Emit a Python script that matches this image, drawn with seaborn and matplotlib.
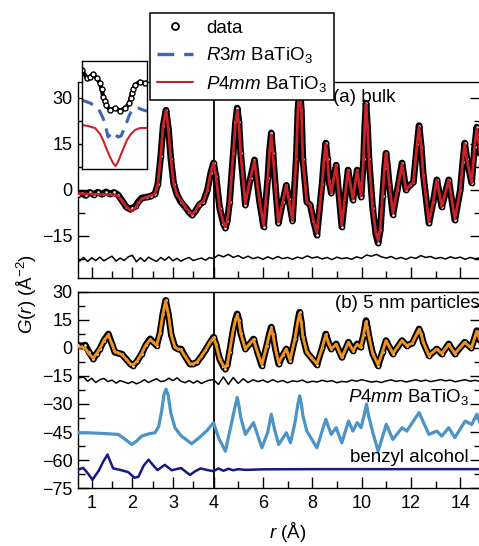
import numpy as np
import matplotlib
matplotlib.use("Agg")
import matplotlib.pyplot as plt
from matplotlib.lines import Line2D
import seaborn as sns

# ---------------- data ----------------
# (a) bulk: data and P4mm fit
r_top = [0.67, 0.75, 0.85, 0.95, 1.05, 1.15, 1.25, 1.35, 1.45, 1.55, 1.65, 1.75, 1.85,
         1.95, 2.0, 2.08, 2.15, 2.23, 2.36, 2.46, 2.56, 2.63, 2.7, 2.76, 2.83, 2.89,
         2.95, 3.02, 3.1, 3.2, 3.3, 3.4, 3.47, 3.55, 3.65, 3.75, 3.85, 3.93, 4.0,
         4.1, 4.25, 4.4, 4.48, 4.56, 4.65, 4.8, 4.89, 4.96, 5.03,
         5.1, 5.29, 5.5, 5.66, 5.85, 6.03, 6.2, 6.27, 6.34, 6.41,
         6.5, 6.63, 6.8, 6.95, 7.05, 7.2, 7.35, 7.42, 7.49, 7.56,
         7.62, 7.78, 7.92, 8.05, 8.19, 8.4, 8.48, 8.55, 8.62, 8.68,
         8.77, 8.97, 9.2, 9.45, 9.65, 9.82, 9.98, 10.08, 10.13, 10.18,
         10.24, 10.3, 10.45, 10.58, 10.67, 10.76, 10.85, 10.93, 10.99, 11.05,
         11.12, 11.27, 11.45, 11.64, 11.8, 11.95, 12.1, 12.25, 12.33, 12.42,
         12.5, 12.73, 12.9, 13.05, 13.25, 13.53, 13.78, 14.0, 14.1, 14.18,
         14.27, 14.46, 14.58, 14.67, 14.76, 14.85]
g_top_data = [-1.5, -1.0, -1.8, -0.8, -1.5, -0.7, -1.4, -0.6, -1.3, -0.8, -1.6, -3.5, -5.5,
              -6.3, -6.0, -5.2, -3.8, -2.6, -2.3, -2.0, -1.2, 2.0, 11.0, 21.0, 26.0, 20.0,
              10.0, 2.0, -1.5, -4.0, -5.5, -7.3, -8.2, -7.0, -4.8, -3.8, 0.0, 5.5, 8.8,
              4.5, -6, -11, -12.4, -10, -4, 12, 22, 26.7, 22,
              12, -4.9, 4, 9.8, -3, -12, 4, 13, 18.6, 12,
              2, -10.8, -4, 1.5, -3, -10, 10, 26, 34, 26,
              10, -3.9, -4.9, -10, -14.7, 2, 10, 15.3, 10, 3,
              -1, 8.1, -12, 6.5, -3.3, 6.5, -2.3, 10, 21, 28.3,
              21, 10, -6, -14.5, -17.3, -13, -2, 7, 12, 8,
              2, -8, 0, 8.8, 0, 1.5, 2.5, 15, 21, 14,
              5, -10.8, -4, 3.3, -5.5, 3.3, -9.8, 0, 9, 15.3,
              10, 2.3, 14, 20.5, 15, 8]
g_top_fit = [-1.2, -1.2, -1.3, -1.3, -1.4, -1.4, -1.5, -1.5, -1.6, -1.7, -2.0, -3.5, -5.5,
             -6.5, -6.8, -5.8, -4.2, -3.0, -2.2, -1.8, -1.2, 2.0, 11.0, 21.0, 26.0, 20.0,
             10.0, 2.0, -1.5, -3.5, -5.5, -7.0, -8.0, -7.0, -4.5, -3.8, 0.0, 5.5, 8.8,
             4.5, -6, -10.7, -12, -9.7, -4, 12, 21.5, 26, 21.5,
             12, -4.5, 4, 9.5, -3, -11.5, 4, 12.5, 18, 11.5,
             2, -10.5, -4, 1.5, -3, -10, 10, 26, 34, 26,
             10, -3.9, -4.9, -10, -14, 2, 10, 15, 10, 3,
             -1, 8, -11.5, 6.5, -3, 6.5, -2, 10, 20.5, 28,
             20.5, 10, -6, -14, -16.5, -12.5, -2, 7, 12, 8,
             2, -7.5, 0, 8.5, 0, 1.5, 2.5, 15, 20.5, 14,
             5, -10.5, -4, 3.3, -5.5, 3.3, -9.5, 0, 9, 15,
             10, 2.3, 14, 20, 15, 8]

# difference curves (shared r grid)
r_diff = [0.7, 0.8, 0.9, 1.0, 1.1, 1.2, 1.3, 1.4, 1.5, 1.6, 1.7, 1.8, 1.9, 2.0, 2.1, 2.2, 2.3,
          2.4, 2.5, 2.6, 2.7, 2.8, 2.9, 3.0, 3.1, 3.2, 3.3, 3.4, 3.5, 3.6, 3.7, 3.8, 3.9, 4.0,
          4.2, 4.4, 4.6, 4.8, 5.0, 5.2, 5.4, 5.6, 5.8, 6.0, 6.2, 6.4, 6.6, 6.8, 7.0, 7.2, 7.4,
          7.6, 7.8, 8.0, 8.2, 8.4, 8.6, 8.8, 9.0, 9.2, 9.4, 9.6, 9.8, 10.0, 10.2, 10.4, 10.6,
          10.8, 11.0, 11.2, 11.4, 11.6, 11.8, 12.0, 12.2, 12.4, 12.6, 12.8, 13.0, 13.2, 13.4,
          13.6, 13.8, 14.0, 14.2, 14.4, 14.6, 14.8]
g_diff_top = [-23.2, -22.0, -23.3, -22.1, -23.0, -21.9, -23.1, -22.3, -21.6, -23.2, -22.2, -23.0,
              -21.8, -21.3, -23.4, -22.1, -23.3, -21.9, -22.7, -23.3, -22.0, -22.9, -21.8, -23.1,
              -22.3, -23.2, -22.5, -22.0, -23.0, -22.6, -22.2, -22.9, -22.1, -22.3,
              -21.2, -21.8, -21.0, -22.0, -21.4, -22.3, -21.6, -22.4, -21.9, -22.6, -21.8, -22.5,
              -21.7, -22.4, -22.0, -22.6, -21.9, -22.3, -21.5, -22.2, -21.8, -22.5, -22.0, -22.7,
              -21.9, -22.4, -22.1, -22.6, -21.8, -22.3, -21.2, -21.6, -21.0, -21.8, -22.2, -21.7,
              -22.5, -22.0, -22.6, -21.9, -22.3, -21.4, -22.0, -21.7, -22.4, -22.0, -22.5, -21.8,
              -22.3, -21.9, -22.6, -22.0, -22.4, -22.1]
g_diff_bot = [-16.0, -15.5, -17.8, -16.2, -18.5, -17.0, -16.3, -18.0, -17.2, -18.8, -17.5, -18.2,
              -19.0, -18.0, -19.2, -18.3, -17.0, -18.5, -17.4, -16.5, -18.0, -17.6, -16.2, -17.5,
              -16.0, -17.8, -18.6, -17.4, -18.8, -17.6, -19.0, -18.0, -17.2, -17.0,
              -19.5, -15.5, -19.5, -15.8, -19.0, -16.5, -18.5, -17.0, -18.0, -17.2, -18.4, -17.0,
              -18.2, -17.4, -18.6, -17.6, -18.0, -17.2, -18.5, -17.8, -18.2, -17.3, -18.0, -17.5,
              -18.6, -17.9, -18.2, -17.2, -17.8, -17.0, -17.6, -18.3, -17.8, -18.5, -17.6, -17.1,
              -17.9, -17.4, -18.2, -17.6, -17.0, -17.8, -17.2, -18.0, -17.5, -16.9, -17.6, -17.2,
              -18.1, -17.5, -17.0, -17.8, -17.3, -17.9]

# (b) 5 nm particles: data and fit
r_bot = [0.67, 0.75, 0.84, 0.93, 1.04, 1.12, 1.2, 1.3, 1.41, 1.5, 1.57, 1.65, 1.74, 1.85, 1.95,
         2.02, 2.12, 2.23, 2.33, 2.44, 2.52, 2.6, 2.68, 2.75, 2.82, 2.89, 2.96, 3.05, 3.12, 3.2,
         3.3, 3.42, 3.5, 3.59, 3.7, 3.8, 3.9, 4.0,
         4.1, 4.25, 4.4, 4.48, 4.56, 4.65, 4.8, 4.89, 4.96, 5.03,
         5.1, 5.29, 5.45, 5.62, 5.8, 5.96, 6.15, 6.27, 6.34, 6.41,
         6.5, 6.64, 6.8, 6.95, 7.1, 7.3, 7.42, 7.49, 7.56, 7.62,
         7.78, 7.95, 8.19, 8.4, 8.55, 8.68, 8.77, 8.97, 9.2, 9.47,
         9.65, 9.82, 9.96, 10.08, 10.18, 10.24, 10.3, 10.45, 10.67, 10.85,
         10.99, 11.27, 11.64, 11.83, 12.05, 12.25, 12.33, 12.42, 12.5, 12.73,
         13.05, 13.25, 13.53, 13.78, 14.18, 14.45, 14.67, 14.85]
g_bot_data = [1.5, 1.0, 1.6, -2.0, -5.9, -3.0, -0.5, 4.0, 7.5, 2.0, -2.3, -2.8, -3.2, -6.0, -8.5,
              -9.5, -7.0, -3.2, 1.5, 4.9, 3.0, 1.3, 8.0, 18.0, 25.5, 18.0, 7.0, 0.4, -0.5, -0.5,
              -4.5, -8.6, -8.5, -7.7, -4.5, -1.2, 2.5, 5.8,
              2, -6, -10, -11.3, -9, -2, 10, 15.5, 18.3, 15,
              8, -0.5, 2, 4.8, -3, -9.5, 1, 8, 11.2, 7.5,
              0, -8.6, -4, -0.5, -6.8, 5, 15, 19.2, 14, 6,
              -2.3, -5, -9, 0, 7.5, 2, -0.5, 2.2, -5, 3.1,
              -1.4, 2.2, 0.4, 7, 14.7, 11, 6, -3, -9.5, -2,
              4, -3.2, 4, 1.3, 2.5, 8, 10.2, 7.5, 3, -4.1,
              -0.5, -3.2, 2.2, -3.2, 3.1, 0, 9.3, 2]
g_bot_fit = [0.5, 0.5, 0.0, -3.0, -5.5, -3.0, -0.5, 4.0, 7.0, 2.0, -2.0, -2.5, -3.5, -6.0, -8.5,
             -9.0, -7.0, -3.0, 1.5, 4.5, 3.0, 1.5, 8.0, 18.0, 25.0, 18.0, 7.0, 0.4, -0.5, -1.0,
             -4.5, -8.5, -8.5, -7.5, -4.5, -1.2, 2.5, 5.5,
             2, -6, -9.5, -10.5, -8.5, -2, 10, 15, 17.5, 14.5,
             8, -0.5, 2, 4.5, -3, -9, 1, 7.5, 10.5, 7,
             0, -8, -4, -0.5, -6.5, 5, 14.5, 18.5, 13.5, 6,
             -2.3, -5, -8.5, 0, 7, 2, -0.5, 2, -5, 3,
             -1.4, 2, 0.4, 7, 14, 10.5, 6, -3, -9, -2,
             4, -3, 4, 1.3, 2.5, 7.8, 10, 7.3, 3, -4,
             -0.5, -3, 2, -3, 3, 0, 9, 2]

# P4mm BaTiO3 calculated (offset)
r_p4 = [0.67, 1.0, 1.3, 1.65, 1.8, 1.985, 2.1, 2.23, 2.4, 2.56,
        2.65, 2.72, 2.78, 2.83, 2.88, 2.95, 3.05, 3.2, 3.46, 3.65,
        3.85, 4.0, 4.2, 4.48, 4.7, 4.88, 4.96, 5.03, 5.1, 5.29,
        5.62, 5.96, 6.2, 6.34, 6.48, 6.64, 6.95, 7.12, 7.3, 7.42,
        7.49, 7.56, 7.62, 7.78, 8.19, 8.55, 8.77, 8.97, 9.2, 9.47,
        9.65, 9.82, 9.98, 10.12, 10.2, 10.28, 10.45, 10.67, 11.0, 11.27,
        11.64, 11.83, 12.33, 12.73, 13.05, 13.25, 13.53, 13.78, 14.2, 14.46,
        14.67, 14.85]
g_p4 = [-45.4, -45.5, -45.8, -46.3, -48.5, -51.7, -50.0, -47.2, -46.0, -45.4,
        -42.0, -34.0, -25.0, -22.0, -25.0, -35.0, -42.7, -47.0, -51.3, -48.0,
        -44.0, -40.0, -48.0, -55.3, -42.0, -31.0, -26.5, -31.0, -37.0, -46.3,
        -40.0, -53.5, -45.0, -35.5, -44.0, -51.7, -45.4, -50.8, -40.0, -30.0,
        -25.6, -30.0, -36.0, -44.5, -53.5, -38.2, -46.3, -42.7, -50.8, -39.1,
        -44.5, -40.0, -42.7, -35.0, -30.0, -36.0, -45.0, -55.3, -40.9, -49.0,
        -42.7, -44.5, -34.6, -46.3, -44.5, -47.2, -42.7, -48.0, -39.1, -41.0,
        -35.5, -42.0]

# benzyl alcohol (offset)
r_ba = [0.67, 0.79, 0.9, 1.02, 1.1, 1.18, 1.28, 1.39, 1.46, 1.53, 1.7, 1.9, 2.05, 2.15, 2.28,
        2.4, 2.5, 2.62, 2.8, 2.97, 3.2, 3.42, 3.55, 3.68, 3.85, 4.0, 4.2, 4.4, 4.6, 4.8, 5.0,
        5.3, 6.0, 8.0, 10.0, 12.0, 14.85]
g_ba = [-65.2, -64.2, -67.0, -70.6, -68.0, -65.5, -61.0, -57.1, -61.0, -64.5, -65.3, -66.5, -69.5,
        -69.0, -63.0, -59.8, -62.5, -65.4, -62.6, -65.5, -64.3, -68.0, -66.0, -64.5, -65.4, -66.0,
        -64.5, -65.8, -64.7, -65.5, -64.9, -65.3, -65.0, -64.9, -64.9, -64.9, -64.9]

# inset (zoomed region, arbitrary units)
u_in_data = [-0.026, 0.005, 0.077, 0.128, 0.178, 0.231, 0.282, 0.305, 0.332, 0.351, 0.374, 0.435,
             0.512, 0.589, 0.666, 0.732, 0.751, 0.769, 0.794, 0.820, 0.897, 0.974, 1.05]
v_in_data = [0.917, 0.917, 0.843, 0.855, 0.880, 0.840, 0.797, 0.740, 0.670, 0.631, 0.594, 0.548,
             0.563, 0.541, 0.563, 0.609, 0.659, 0.702, 0.741, 0.778, 0.809, 0.794, 0.809]
u_in_r3m = [0.0, 0.128, 0.251, 0.328, 0.374, 0.405, 0.451, 0.482, 0.528, 0.558, 0.605, 0.666,
            0.728, 0.774, 0.866, 0.943, 1.005]
v_in_r3m = [0.640, 0.612, 0.566, 0.474, 0.381, 0.298, 0.326, 0.344, 0.317, 0.298, 0.307, 0.391,
            0.492, 0.548, 0.566, 0.548, 0.538]
u_in_p4 = [0.0, 0.097, 0.205, 0.282, 0.328, 0.389, 0.435, 0.482, 0.520, 0.558, 0.589, 0.651,
           0.697, 0.758, 0.820, 0.897, 1.005]
v_in_p4 = [0.409, 0.400, 0.381, 0.326, 0.271, 0.178, 0.114, 0.058, 0.030, 0.067, 0.114, 0.206,
           0.271, 0.326, 0.363, 0.381, 0.381]

x_major = [1, 2, 3, 4, 6, 8, 10, 12, 14]
x_minor = [1.5, 2.5, 3.5, 5, 7, 9, 11, 13]
y_top_major = [-15, 0, 15, 30]
y_top_minor = [-22.5, -7.5, 7.5, 22.5]
y_bot_major = [-75, -60, -45, -30, -15, 0, 15, 30]
y_bot_minor = [-67.5, -52.5, -37.5, -22.5, -7.5, 7.5, 22.5]

for a, b in [(r_top, g_top_data), (r_top, g_top_fit), (r_diff, g_diff_top), (r_diff, g_diff_bot),
             (r_bot, g_bot_data), (r_bot, g_bot_fit), (r_p4, g_p4), (r_ba, g_ba),
             (u_in_data, v_in_data), (u_in_r3m, v_in_r3m), (u_in_p4, v_in_p4)]:
    assert len(a) == len(b), (len(a), len(b))
    assert all(a[i] < a[i + 1] for i in range(len(a) - 1)), a

# ---------------- style ----------------
sns.set_theme(style="ticks")
plt.rcParams['font.family'] = ['Liberation Sans', 'DejaVu Sans']
plt.rcParams['mathtext.fontset'] = 'custom'
plt.rcParams['mathtext.rm'] = 'Liberation Sans'
plt.rcParams['mathtext.it'] = 'Liberation Sans:italic'
plt.rcParams['mathtext.bf'] = 'Liberation Sans:bold'
plt.rcParams['axes.linewidth'] = 1.0
for key in ['text.color', 'axes.labelcolor', 'xtick.color', 'ytick.color', 'axes.edgecolor']:
    plt.rcParams[key] = 'black'
plt.rcParams['lines.solid_joinstyle'] = 'round'

C_RED = "#C8232B"
C_ORANGE = "#EE9222"
C_LBLUE = "#4C93C6"
C_NAVY = "#161888"
C_DBLUE = "#3E64B6"

W, H = 479, 546
fig = plt.figure(figsize=(W / 100, H / 100), dpi=100)


def px_axes(x0, y0, x1, y1, **kw):
    return fig.add_axes([x0 / W, 1 - y1 / H, (x1 - x0) / W, (y1 - y0) / H], **kw)


K = 0.6076


def fwd(r):
    r = np.asarray(r, float)
    return np.where(r <= 4, r, 4 + (r - 4) * K)


def inv(u):
    u = np.asarray(u, float)
    return np.where(u <= 4, u, 4 + (u - 4) / K)


ax_top = px_axes(78.3, 82, 481, 278)
ax_bot = px_axes(78.3, 292, 481, 488)

for ax in (ax_top, ax_bot):
    ax.set_xscale('function', functions=(fwd, inv))
    ax.set_xlim(0.67, 14.84)
    ax.set_xticks(x_major)
    ax.set_xticks(x_minor, minor=True)
    ax.tick_params(which='both', direction='in', top=False, right=True, width=1.0,
                   labelsize=13, colors='black')
    ax.tick_params(which='major', length=8)
    ax.tick_params(which='minor', length=5)
    ax.tick_params(axis='y', pad=4)
    ax.tick_params(axis='x', pad=5)
    ax.axvline(4, color='black', lw=1.3, zorder=1)
    for s in ax.spines.values():
        s.set_color('black')
        s.set_linewidth(1.0)

ax_top.set_ylim(-28.7, 35.2)
ax_top.set_yticks(y_top_major)
ax_top.set_yticks(y_top_minor, minor=True)
ax_top.tick_params(axis='x', labelbottom=False)

ax_bot.set_ylim(-75, 30)
ax_bot.set_yticks(y_bot_major)
ax_bot.set_yticks(y_bot_minor, minor=True)
ax_bot.set_xticklabels([str(v) for v in x_major])

data_style = dict(sort=False, estimator=None, color='black', lw=4.8, marker='o',
                  markersize=3.0, markerfacecolor='white', markeredgecolor='black',
                  markeredgewidth=1.1, zorder=3)

# ---- top panel ----
sns.lineplot(x=r_top, y=g_top_data, ax=ax_top, **data_style)
sns.lineplot(x=r_top, y=g_top_fit, ax=ax_top, sort=False, estimator=None, color=C_RED,
             lw=2.0, zorder=4)
sns.lineplot(x=r_diff, y=g_diff_top, ax=ax_top, sort=False, estimator=None, color='black',
             lw=1.1, zorder=3)

# ---- bottom panel ----
sns.lineplot(x=r_bot, y=g_bot_data, ax=ax_bot, **data_style)
sns.lineplot(x=r_bot, y=g_bot_fit, ax=ax_bot, sort=False, estimator=None, color=C_ORANGE,
             lw=2.1, zorder=4)
sns.lineplot(x=r_diff, y=g_diff_bot, ax=ax_bot, sort=False, estimator=None, color='black',
             lw=1.1, zorder=3)
sns.lineplot(x=r_p4, y=g_p4, ax=ax_bot, sort=False, estimator=None, color=C_LBLUE,
             lw=2.3, zorder=3)
sns.lineplot(x=r_ba, y=g_ba, ax=ax_bot, sort=False, estimator=None, color=C_NAVY,
             lw=1.8, zorder=3)

for ax in (ax_top, ax_bot):
    ax.set_xlabel("")
    ax.set_ylabel("")
    if ax.get_legend() is not None:
        ax.get_legend().remove()

# ---- inset ----
ax_in = px_axes(81.7, 61, 146.7, 169.3, zorder=5)
ax_in.set_facecolor('white')
sns.lineplot(x=u_in_data, y=v_in_data, ax=ax_in, sort=False, estimator=None, color='black',
             lw=3.0, marker='o', markersize=3.6, markerfacecolor='white',
             markeredgecolor='black', markeredgewidth=1.0)
sns.lineplot(x=u_in_r3m, y=v_in_r3m, ax=ax_in, sort=False, estimator=None, color=C_DBLUE,
             lw=2.2, dashes=False, linestyle=(0, (4, 2.6)))
sns.lineplot(x=u_in_p4, y=v_in_p4, ax=ax_in, sort=False, estimator=None, color=C_RED, lw=1.5)
ax_in.set_xlim(0, 1)
ax_in.set_ylim(0, 1)
ax_in.set_xticks([])
ax_in.set_yticks([])
ax_in.set_xlabel("")
ax_in.set_ylabel("")
for s in ax_in.spines.values():
    s.set_color('black')
    s.set_linewidth(1.0)

# ---- legend ----
handles = [
    Line2D([], [], ls='none', marker='o', markersize=5, markerfacecolor='white',
           markeredgecolor='black', markeredgewidth=1.3),
    Line2D([], [], color=C_DBLUE, lw=2.4, ls=(0, (5, 3))),
    Line2D([], [], color=C_RED, lw=1.5),
]
labels = ["data", r"$\it{R3m}$ BaTiO$_3$", r"$\it{P4mm}$ BaTiO$_3$"]
leg = fig.legend(handles, labels, loc='upper left', bbox_to_anchor=(150 / W, 1 - 13 / H),
                 frameon=True, fancybox=False, edgecolor='black', framealpha=1,
                 fontsize=13.5, handlelength=1.95, handletextpad=0.7, borderpad=0.35,
                 labelspacing=0.45, borderaxespad=0)
leg.get_frame().set_linewidth(1.1)
leg.set_zorder(10)

# ---- texts ----
fig.text(333 / W, 1 - 97 / H, "(a) bulk", fontsize=13.5, ha='left', va='center')
fig.text(335 / W, 1 - 303 / H, "(b) 5 nm particles", fontsize=13.5, ha='left', va='center')
fig.text(469 / W, 1 - 397 / H, r"$\it{P4mm}$ BaTiO$_3$", fontsize=13.5, ha='right', va='center')
fig.text(469 / W, 1 - 458 / H, "benzyl alcohol", fontsize=13.5, ha='right', va='center')
fig.text(27 / W, 1 - 294 / H, r"$G(r)$ (Å$^{-2}$)", fontsize=13.5, rotation=90,
         ha='center', va='center')
fig.text(288 / W, 1 - 532 / H, r"$r$ (Å)", fontsize=13.5, ha='center', va='center')

fig.savefig("out.png", dpi=100)
